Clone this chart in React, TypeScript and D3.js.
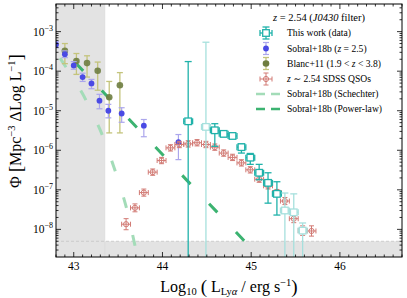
import React from 'react';
import * as d3 from 'd3';

// This work (J0430 filter) LF points
const workX = [44.29, 44.49, 44.59, 44.69, 44.79, 44.89, 44.99, 45.09, 45.19, 45.29, 45.38, 45.48, 45.58];
const workPhi = [5.4e-6, 3.9e-6, 3.2e-6, 2.6e-6, 2.3e-6, 1.2e-6, 6.5e-7, 2.7e-7, 1.5e-7, 7.9e-8, 3.0e-8, 2.7e-8, 9.3e-9];
const workHi = [1.75e-4, 5.4e-4, 4.7e-6, 3.0e-6, 2.6e-6, 1.45e-6, 8.3e-7, 4.4e-7, 2.7e-7, 1.6e-7, 8.3e-8, 7.9e-8, 1.45e-8];
const workLo = [1e-12, 1e-12, 1.26e-6, 2.2e-6, 2.0e-6, 8.5e-7, 4.4e-7, 1.8e-7, 4.6e-8, 2.3e-8, 1e-12, 1e-12, 1e-12];
const workFaint = [false, true, false, false, false, false, false, false, false, false, true, true, true];

// Sobral+18b (z = 2.5)
const sobX = [42.8, 42.9, 43.0, 43.1, 43.2, 43.29, 43.39, 43.54, 43.79, 44.18];
const sobPhi = [4.7e-4, 2.7e-4, 1.4e-4, 7.1e-5, 4.9e-5, 1.8e-5, 1.0e-5, 8.5e-6, 4.2e-6, 1.6e-6];
const sobHi = [5.6e-4, 3.26e-4, 1.75e-4, 8.9e-5, 6.2e-5, 2.6e-5, 1.45e-5, 1.19e-5, 6.0e-6, 2.5e-6];
const sobLo = [3.9e-4, 2.2e-4, 1.12e-4, 5.5e-5, 3.6e-5, 1.12e-5, 6.6e-6, 5.1e-6, 2.2e-6, 5.8e-7];

// Blanc+11
const blancX = [42.9, 43.03, 43.15, 43.27, 43.4, 43.52];
const blancPhi = [3.3e-4, 1.8e-4, 1.6e-4, 1.03e-4, 2.2e-5, 4.4e-5];
const blancHi = [5.0e-4, 2.8e-4, 2.45e-4, 1.7e-4, 5.5e-5, 9.2e-5];
const blancLo = [1.55e-4, 8.3e-5, 7.1e-5, 3.3e-5, 2.75e-6, 2.75e-6];

// z ~ 2.54 SDSS QSOs
const qsoX = [43.59, 43.69, 43.79, 43.89, 43.99, 44.09, 44.19, 44.29, 44.39, 44.49, 44.59, 44.69, 44.79, 44.89, 44.99, 45.09, 45.19, 45.29, 45.38, 45.48, 45.58, 45.68];
const qsoPhi = [1.35e-8, 3.5e-8, 8.5e-8, 2.8e-7, 5.5e-7, 1.15e-6, 1.4e-6, 1.45e-6, 1.55e-6, 1.4e-6, 1.2e-6, 8.5e-7, 6.6e-7, 4.8e-7, 3.2e-7, 1.86e-7, 1.26e-7, 8.5e-8, 5.2e-8, 1.86e-8, 9.3e-9, 9.1e-9];
const qsoErrDex = [0.14, 0.1, 0.09, 0.08, 0.08, 0.08, 0.08, 0.08, 0.08, 0.08, 0.08, 0.08, 0.08, 0.08, 0.08, 0.08, 0.08, 0.08, 0.09, 0.1, 0.12, 0.13];

// Sobral+18b fits
const schX = [42.8, 42.9, 43.0, 43.1, 43.2, 43.3, 43.4, 43.5, 43.6, 43.7, 43.76];
const schPhi = [3.1e-4, 1.39e-4, 6.3e-5, 2.7e-5, 9.4e-6, 3.2e-6, 8.1e-7, 1.8e-7, 3.1e-8, 3.1e-9, 8e-10];
const plX = [42.8, 45.2];
const plPhi = [5.4e-4, 1.13e-9];

const xTicks = [43, 44, 45, 46];
const yTicks = [-3, -4, -5, -6, -7, -8];

const legendItems = [
  'This work (data)',
  'Sobral+18b (z = 2.5)',
  'Blanc+11 (1.9 < z < 3.8)',
  'z \u223C 2.54 SDSS QSOs',
  'Sobral+18b (Schechter)',
  'Sobral+18b (Power-law)',
];

const W = 407;
const H = 298;
const L = 56, R = 402, T = 4, B = 257;
const FONT = "'Liberation Serif', 'DejaVu Serif', serif";

const TEAL = '#20b2aa';
const TEAL_FAINT = '#a6e0dd';
const BLUE = '#4a4ae4';
const LAVENDER = '#aba6ec';
const OLIVE = '#6e7d40';
const OLIVE_ERR = '#c4c47c';
const QSO = '#d27a74';
const SCH = '#a3dcb8';
const PL = '#3cb371';

// italic z helper for legend strings
const renderLabel = (s: string) =>
  s.split(/(z)/).map((p, i) =>
    p === 'z' ? <tspan key={i} fontStyle="italic">z</tspan> : <tspan key={i}>{p}</tspan>
  );

const App: React.FC = () => {
  const x = d3.scaleLinear().domain([42.8, 46.7]).range([L, R]);
  const y = d3.scaleLog().domain([2e-9, 5e-3]).range([B, T]);

  const xMinor = d3.range(428, 468).map(v => v / 10).filter(v => Math.abs(v - Math.round(v)) > 1e-6);
  const yMinor: number[] = [];
  for (let e = -9; e <= -3; e++) {
    for (let k = 2; k <= 9; k++) {
      const v = k * Math.pow(10, e);
      if (v > 2e-9 && v < 5e-3) yMinor.push(v);
    }
  }

  const schLine = d3
    .line<number>()
    .x((_, i) => x(schX[i]))
    .y((_, i) => y(schPhi[i]))
    .curve(d3.curveMonotoneX);
  const plLine = d3
    .line<number>()
    .x((_, i) => x(plX[i]))
    .y((_, i) => y(plPhi[i]));

  const capV = (cx: number, cy: number, hw: number, color: string, sw: number, key: string) => (
    <line key={key} x1={cx - hw} x2={cx + hw} y1={cy} y2={cy} stroke={color} strokeWidth={sw} />
  );

  const legY = [33, 48.5, 63.5, 79, 94, 109];
  const legMx = 266;

  return (
    <svg width={W} height={H} style={{ position: 'absolute', left: 0, top: 0, background: '#fff' }} fontFamily={FONT}>
      <defs>
        <clipPath id="plotClip">
          <rect x={L} y={T} width={R - L} height={B - T} />
        </clipPath>
      </defs>

      {/* excluded regions */}
      <g clipPath="url(#plotClip)">
        <rect x={L} y={T} width={x(43.35) - L} height={B - T} fill="#e3e3e3" />
        <rect x={L} y={y(5e-9)} width={R - L} height={B - y(5e-9)} fill="#e3e3e3" />
        <line x1={L} x2={R} y1={y(5e-9)} y2={y(5e-9)} stroke="#c4c4c4" strokeWidth={0.8} strokeDasharray="3 2" />
        <line x1={x(43.35)} x2={x(43.35)} y1={T} y2={B} stroke="#d6d6d6" strokeWidth={0.6} />

        {/* fits */}
        <path d={schLine(schX) || ''} fill="none" stroke={SCH} strokeWidth={3} strokeDasharray="11 27.5" strokeDashoffset={31} />
        <path d={plLine(plX) || ''} fill="none" stroke={PL} strokeWidth={3} strokeDasharray="12 27" strokeDashoffset={11.5} />

        {/* Blanc+11 */}
        {blancX.map((bx, i) => {
          const cx = x(bx);
          return (
            <g key={'b' + i}>
              <line x1={cx} x2={cx} y1={y(blancHi[i])} y2={y(blancLo[i])} stroke={OLIVE_ERR} strokeWidth={1.3} />
              {capV(cx, y(blancHi[i]), 3, OLIVE_ERR, 1.3, 'bh')}
              {capV(cx, y(blancLo[i]), 3, OLIVE_ERR, 1.3, 'bl')}
              <circle cx={cx} cy={y(blancPhi[i])} r={3.3} fill={OLIVE} fillOpacity={0.9} />
            </g>
          );
        })}

        {/* Sobral+18b */}
        {sobX.map((sx, i) => {
          const cx = x(sx);
          return (
            <g key={'s' + i}>
              <line x1={cx} x2={cx} y1={y(sobHi[i])} y2={y(sobLo[i])} stroke={LAVENDER} strokeWidth={1.2} />
              {capV(cx, y(sobHi[i]), 3, LAVENDER, 1.2, 'sh')}
              {capV(cx, y(sobLo[i]), 3, LAVENDER, 1.2, 'sl')}
              <circle cx={cx} cy={y(sobPhi[i])} r={2.9} fill={BLUE} />
            </g>
          );
        })}

        {/* QSOs */}
        {qsoX.map((qx, i) => {
          const cx = x(qx);
          const cy = y(qsoPhi[i]);
          const yHi = y(qsoPhi[i] * Math.pow(10, qsoErrDex[i]));
          const yLo = y(qsoPhi[i] / Math.pow(10, qsoErrDex[i]));
          const xl = x(qx - 0.05);
          const xr = x(qx + 0.05);
          return (
            <g key={'q' + i} stroke={QSO} strokeWidth={1} fill="none">
              <line x1={xl} x2={xr} y1={cy} y2={cy} />
              <line x1={xl} x2={xl} y1={cy - 2.5} y2={cy + 2.5} />
              <line x1={xr} x2={xr} y1={cy - 2.5} y2={cy + 2.5} />
              <line x1={cx} x2={cx} y1={yHi} y2={yLo} />
              <line x1={cx - 2.5} x2={cx + 2.5} y1={yHi} y2={yHi} />
              <line x1={cx - 2.5} x2={cx + 2.5} y1={yLo} y2={yLo} />
              <circle cx={cx} cy={cy} r={2.6} />
            </g>
          );
        })}

        {/* This work */}
        {workX.map((wx, i) => {
          const c = workFaint[i] ? TEAL_FAINT : TEAL;
          const cx = x(wx);
          const cy = y(workPhi[i]);
          const yHi = y(workHi[i]);
          const yLo = y(workLo[i]);
          const xl = x(wx - 0.05);
          const xr = x(wx + 0.05);
          return (
            <g key={'w' + i} stroke={c} strokeWidth={1.3}>
              <line x1={cx} x2={cx} y1={yHi} y2={yLo} />
              <line x1={cx - 3.5} x2={cx + 3.5} y1={yHi} y2={yHi} />
              <line x1={cx - 3.5} x2={cx + 3.5} y1={yLo} y2={yLo} />
              <line x1={xl} x2={xr} y1={cy} y2={cy} />
              <line x1={xl} x2={xl} y1={cy - 3} y2={cy + 3} />
              <line x1={xr} x2={xr} y1={cy - 3} y2={cy + 3} />
              <rect x={cx - 3.3} y={cy - 3.3} width={6.6} height={6.6} fill="#fff" />
            </g>
          );
        })}
      </g>

      {/* frame and ticks */}
      <rect x={L} y={T} width={R - L} height={B - T} fill="none" stroke="#000" strokeWidth={1} />
      <g stroke="#000" strokeWidth={0.8}>
        {xTicks.map(t => (
          <g key={'xt' + t}>
            <line x1={x(t)} x2={x(t)} y1={B} y2={B - 5} />
            <line x1={x(t)} x2={x(t)} y1={T} y2={T + 5} />
          </g>
        ))}
        {xMinor.map(t => (
          <g key={'xm' + t}>
            <line x1={x(t)} x2={x(t)} y1={B} y2={B - 2.5} />
            <line x1={x(t)} x2={x(t)} y1={T} y2={T + 2.5} />
          </g>
        ))}
        {yTicks.map(e => (
          <g key={'yt' + e}>
            <line x1={L} x2={L + 5} y1={y(Math.pow(10, e))} y2={y(Math.pow(10, e))} />
            <line x1={R} x2={R - 5} y1={y(Math.pow(10, e))} y2={y(Math.pow(10, e))} />
          </g>
        ))}
        {yMinor.map((v, i) => (
          <g key={'ym' + i}>
            <line x1={L} x2={L + 2.5} y1={y(v)} y2={y(v)} />
            <line x1={R} x2={R - 2.5} y1={y(v)} y2={y(v)} />
          </g>
        ))}
      </g>

      {/* tick labels */}
      {xTicks.map(t => (
        <text key={'xl' + t} x={x(t)} y={270} textAnchor="middle" fontSize={11.5}>
          {t}
        </text>
      ))}
      {yTicks.map(e => (
        <text key={'yl' + e} x={53} y={y(Math.pow(10, e)) + 4} textAnchor="end" fontSize={11.5}>
          10
          <tspan fontSize={8} dy={-5}>{'\u2212' + -e}</tspan>
        </text>
      ))}

      {/* axis labels */}
      <text x={229} y={292} textAnchor="middle" fontSize={16}>
        Log
        <tspan fontSize={10.5} dy={3}>10</tspan>
        <tspan dy={-3}>{' '}</tspan>
        <tspan fontSize={19} dy={1}>(</tspan>
        <tspan dy={-1}>{' L'}</tspan>
        <tspan fontSize={10.5} dy={3}>Ly</tspan>
        <tspan fontSize={10.5} fontStyle="italic">{'\u03B1'}</tspan>
        <tspan dy={-3}>{' / erg s'}</tspan>
        <tspan fontSize={10.5} dy={-6}>{'\u22121'}</tspan>
        <tspan fontSize={19} dy={7}>{')'}</tspan>
      </text>
      <text transform="translate(21,121) rotate(-90)" textAnchor="middle" fontSize={16}>
        {'\u03A6  '}
        <tspan fontSize={19} dy={1}>[</tspan>
        <tspan dy={-1}>Mpc</tspan>
        <tspan fontSize={10.5} dy={-6}>{'\u22123'}</tspan>
        <tspan dy={6}>{' \u0394Log L'}</tspan>
        <tspan fontSize={10.5} dy={-6}>{'\u22121'}</tspan>
        <tspan fontSize={19} dy={7}>]</tspan>
      </text>

      {/* legend */}
      <text x={273} y={20.5} fontSize={10.5}>
        <tspan fontStyle="italic">z</tspan>
        {' = 2.54 ('}
        <tspan fontStyle="italic">J0430</tspan>
        {' filter)'}
      </text>
      {legendItems.map((lab, i) => (
        <text key={'lt' + i} x={287} y={legY[i] + 3.3} fontSize={9.6}>
          {renderLabel(lab)}
        </text>
      ))}
      {/* legend markers */}
      <g stroke={TEAL} strokeWidth={1.3}>
        <line x1={legMx} x2={legMx} y1={legY[0] - 6} y2={legY[0] + 6} />
        <line x1={legMx - 3.5} x2={legMx + 3.5} y1={legY[0] - 6} y2={legY[0] - 6} />
        <line x1={legMx - 3.5} x2={legMx + 3.5} y1={legY[0] + 6} y2={legY[0] + 6} />
        <line x1={legMx - 6} x2={legMx + 6} y1={legY[0]} y2={legY[0]} />
        <line x1={legMx - 6} x2={legMx - 6} y1={legY[0] - 3} y2={legY[0] + 3} />
        <line x1={legMx + 6} x2={legMx + 6} y1={legY[0] - 3} y2={legY[0] + 3} />
        <rect x={legMx - 3.3} y={legY[0] - 3.3} width={6.6} height={6.6} fill="#fff" />
      </g>
      <g stroke={LAVENDER} strokeWidth={1.2}>
        <line x1={legMx} x2={legMx} y1={legY[1] - 6} y2={legY[1] + 6} />
        <line x1={legMx - 3} x2={legMx + 3} y1={legY[1] - 6} y2={legY[1] - 6} />
        <line x1={legMx - 3} x2={legMx + 3} y1={legY[1] + 6} y2={legY[1] + 6} />
      </g>
      <circle cx={legMx} cy={legY[1]} r={2.9} fill={BLUE} />
      <g stroke={OLIVE_ERR} strokeWidth={1.3}>
        <line x1={legMx} x2={legMx} y1={legY[2] - 6} y2={legY[2] + 6} />
        <line x1={legMx - 3} x2={legMx + 3} y1={legY[2] - 6} y2={legY[2] - 6} />
        <line x1={legMx - 3} x2={legMx + 3} y1={legY[2] + 6} y2={legY[2] + 6} />
      </g>
      <circle cx={legMx} cy={legY[2]} r={3.3} fill={OLIVE} />
      <g stroke={QSO} strokeWidth={1} fill="none">
        <line x1={legMx - 6} x2={legMx + 6} y1={legY[3]} y2={legY[3]} />
        <line x1={legMx - 6} x2={legMx - 6} y1={legY[3] - 2.5} y2={legY[3] + 2.5} />
        <line x1={legMx + 6} x2={legMx + 6} y1={legY[3] - 2.5} y2={legY[3] + 2.5} />
        <line x1={legMx} x2={legMx} y1={legY[3] - 6} y2={legY[3] + 6} />
        <line x1={legMx - 2.5} x2={legMx + 2.5} y1={legY[3] - 6} y2={legY[3] - 6} />
        <line x1={legMx - 2.5} x2={legMx + 2.5} y1={legY[3] + 6} y2={legY[3] + 6} />
        <circle cx={legMx} cy={legY[3]} r={2.6} />
      </g>
      <line x1={256} x2={280} y1={legY[4]} y2={legY[4]} stroke={SCH} strokeWidth={2.5} strokeDasharray="9 6" />
      <line x1={256} x2={280} y1={legY[5]} y2={legY[5]} stroke={PL} strokeWidth={2.5} strokeDasharray="9 6" />
    </svg>
  );
};

export default App;
